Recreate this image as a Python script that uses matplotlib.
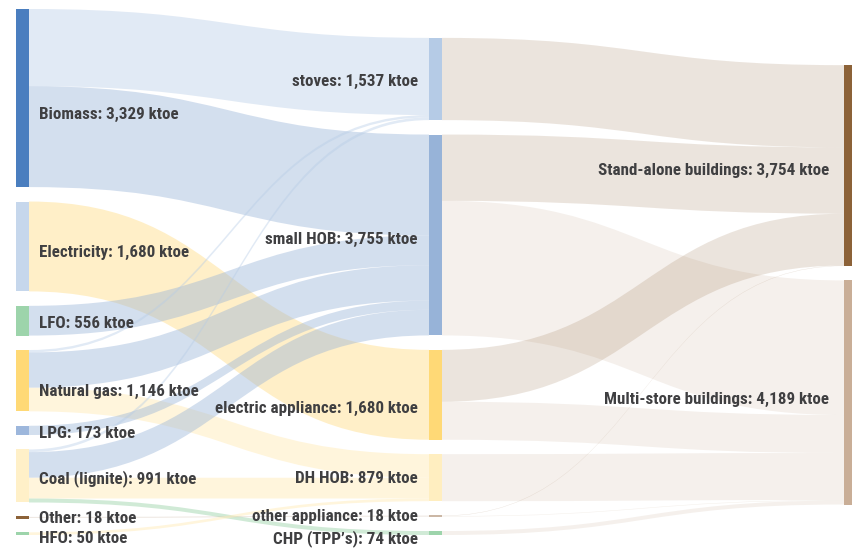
import matplotlib
matplotlib.use("Agg")
import matplotlib.pyplot as plt
from matplotlib import font_manager as fm
from matplotlib.path import Path
from matplotlib.patches import PathPatch, Rectangle

# ---------------------------------------------------------------- data (ktoe)
sources = ["Biomass", "Electricity", "LFO", "Natural gas", "LPG",
           "Coal (lignite)", "Other", "HFO"]
source_values = [3329, 1680, 556, 1146, 173, 991, 18, 50]

technologies = ["stoves", "small HOB", "electric appliance", "DH HOB",
                "other appliance", "CHP (TPP\u2019s)"]
technology_values = [1537, 3755, 1680, 879, 18, 74]

buildings = ["Stand-alone buildings", "Multi-store buildings"]
building_values = [3754, 4189]

# fuel -> technology
fuel_src = ["Biomass", "Biomass", "Electricity", "LFO", "Natural gas",
            "Natural gas", "Natural gas", "LPG", "Coal (lignite)",
            "Coal (lignite)", "Coal (lignite)", "Coal (lignite)", "Other", "HFO"]
fuel_dst = ["stoves", "small HOB", "electric appliance", "small HOB", "stoves",
            "small HOB", "DH HOB", "small HOB", "stoves",
            "small HOB", "DH HOB", "CHP (TPP\u2019s)", "other appliance", "DH HOB"]
fuel_val = [1442, 1887, 1680, 556, 45, 660, 441, 173, 50, 479, 388, 74, 18, 50]

# technology -> building type
use_src = ["stoves", "small HOB", "small HOB", "electric appliance",
           "electric appliance", "DH HOB", "other appliance", "other appliance",
           "CHP (TPP\u2019s)"]
use_dst = ["Stand-alone buildings", "Stand-alone buildings", "Multi-store buildings",
           "Stand-alone buildings", "Multi-store buildings", "Multi-store buildings",
           "Stand-alone buildings", "Multi-store buildings", "Multi-store buildings"]
use_val = [1537, 1239, 2516, 970, 710, 879, 8, 10, 74]

# ---------------------------------------------------------------- styling
node_colors = {
    "Biomass": "#4a7ebf", "Electricity": "#c6d7ec", "LFO": "#9dd4ab",
    "Natural gas": "#ffd976", "LPG": "#9db7dc", "Coal (lignite)": "#fff0c8",
    "Other": "#8c6238", "HFO": "#9dd4ab",
    "stoves": "#b5cbe6", "small HOB": "#97b3d8", "electric appliance": "#ffd976",
    "DH HOB": "#ffeec0", "other appliance": "#cbb7a5", "CHP (TPP\u2019s)": "#9dd4ab",
    "Stand-alone buildings": "#8c6238", "Multi-store buildings": "#c9ae97",
}
link_alpha = {
    "stoves": 0.40, "small HOB": 0.42, "electric appliance": 0.40,
    "DH HOB": 0.55, "other appliance": 0.35, "CHP (TPP\u2019s)": 0.48,
    "Stand-alone buildings": 0.17, "Multi-store buildings": 0.18,
}
# vertical nudges of labels (pixels, downward)
label_shift = {"Biomass": 16, "Natural gas": 11, "electric appliance": 14,
               "Electricity": 6, "small HOB": 5, "Stand-alone buildings": 5,
               "Multi-store buildings": 7, "HFO": 5, "CHP (TPP\u2019s)": 6,
               "Other": 1, "DH HOB": 1, "other appliance": 0, "stoves": 2}
DEFAULT_SHIFT = 3

W, H, DPI = 853, 557, 100
TOP_PX, BOTTOM_PX = 9, 535
GAP = 270                     # padding between nodes, in ktoe units
NODE_W = 13
COL_X = [16, 429, 844]
RIGHT_OFFSET = 1050           # top of the building column, in ktoe units
MIN_NODE_PX = 2.5
TEXT_COLOR = "#3f3f41"
REF_LABEL_PX = 140            # width of the "Biomass" label, pixels


def pick_family():
    """Prefer a narrow bold face; fall back to regular-width ones."""
    for fam in ["Liberation Sans Narrow", "DejaVu Sans Condensed",
                "Roboto Condensed", "Roboto", "Lato", "DejaVu Sans"]:
        try:
            fm.findfont(fm.FontProperties(family=fam, weight="bold"),
                        fallback_to_default=False)
            return fam
        except ValueError:
            continue
    return "DejaVu Sans"


FAMILY = pick_family()
FONT = [FAMILY, "DejaVu Sans"]

span = sum(source_values) + GAP * (len(sources) - 1)
k = (BOTTOM_PX - TOP_PX) / span      # pixels per ktoe

fig = plt.figure(figsize=(W / DPI, H / DPI), dpi=DPI)
ax = fig.add_axes([0, 0, 1, 1])
ax.set_xlim(0, W)
ax.set_ylim((H - TOP_PX) / k, -TOP_PX / k)
ax.axis("off")

# font size chosen so the label column keeps its width
renderer = fig.canvas.get_renderer()
probe = ax.text(0, 0, f"{sources[0]}: {source_values[0]:,} ktoe", fontsize=12,
                fontweight="bold", family=FONT)
w12 = probe.get_window_extent(renderer).width
probe.remove()
FS = min(13.0, 12 * REF_LABEL_PX / w12)

# ---------------------------------------------------------------- layout
columns = [(sources, source_values, 0.0),
           (technologies, technology_values, None),
           (buildings, building_values, RIGHT_OFFSET)]
node_y, node_v, node_col = {}, {}, {}
for ci, (names, vals, start) in enumerate(columns):
    total = sum(vals) + GAP * (len(vals) - 1)
    y = span - total if start is None else start
    for n, v in zip(names, vals):
        node_y[n], node_v[n], node_col[n] = y, v, ci
        y += v + GAP

order = {n: i for names, _, _ in columns for i, n in enumerate(names)}
links = list(zip(fuel_src, fuel_dst, fuel_val)) + list(zip(use_src, use_dst, use_val))

out_off = {n: 0.0 for n in node_y}
in_off = {n: 0.0 for n in node_y}
src_top, dst_top = {}, {}
for i, (s, t, v) in sorted(enumerate(links), key=lambda e: (order[e[1][0]], order[e[1][1]])):
    src_top[i] = node_y[s] + out_off[s]
    out_off[s] += v
for i, (s, t, v) in sorted(enumerate(links), key=lambda e: (order[e[1][1]], order[e[1][0]])):
    dst_top[i] = node_y[t] + in_off[t]
    in_off[t] += v

# ---------------------------------------------------------------- links
for i, (s, t, v) in enumerate(links):
    x0 = COL_X[node_col[s]] + NODE_W
    x1 = COL_X[node_col[t]]
    xm = (x0 + x1) / 2
    y0, y1 = src_top[i], dst_top[i]
    verts = [(x0, y0), (xm, y0), (xm, y1), (x1, y1),
             (x1, y1 + v), (xm, y1 + v), (xm, y0 + v), (x0, y0 + v), (x0, y0)]
    codes = [Path.MOVETO, Path.CURVE4, Path.CURVE4, Path.CURVE4,
             Path.LINETO, Path.CURVE4, Path.CURVE4, Path.CURVE4, Path.CLOSEPOLY]
    ax.add_patch(PathPatch(Path(verts, codes), facecolor=node_colors[t],
                           alpha=link_alpha[t], edgecolor="none", zorder=1))

# ---------------------------------------------------------------- nodes + labels
for n in node_y:
    v = node_v[n]
    h = max(v, MIN_NODE_PX / k)
    yc = node_y[n] + v / 2
    ax.add_patch(Rectangle((COL_X[node_col[n]], yc - h / 2), NODE_W, h,
                           facecolor=node_colors[n], edgecolor="none", zorder=2))
    ci = node_col[n]
    label = f"{n}: {v:,} ktoe"
    ly = yc + label_shift.get(n, DEFAULT_SHIFT) / k
    if ci == 0:
        lx, ha = COL_X[0] + NODE_W + 10, "left"
    elif ci == 1:
        lx, ha = COL_X[1] - 11, "right"
    else:
        lx, ha = COL_X[2] - 15, "right"
    ax.text(lx, ly, label, ha=ha, va="center", color=TEXT_COLOR,
            fontsize=FS, fontweight="bold", family=FONT, zorder=3)

fig.savefig("out.png", dpi=DPI)
